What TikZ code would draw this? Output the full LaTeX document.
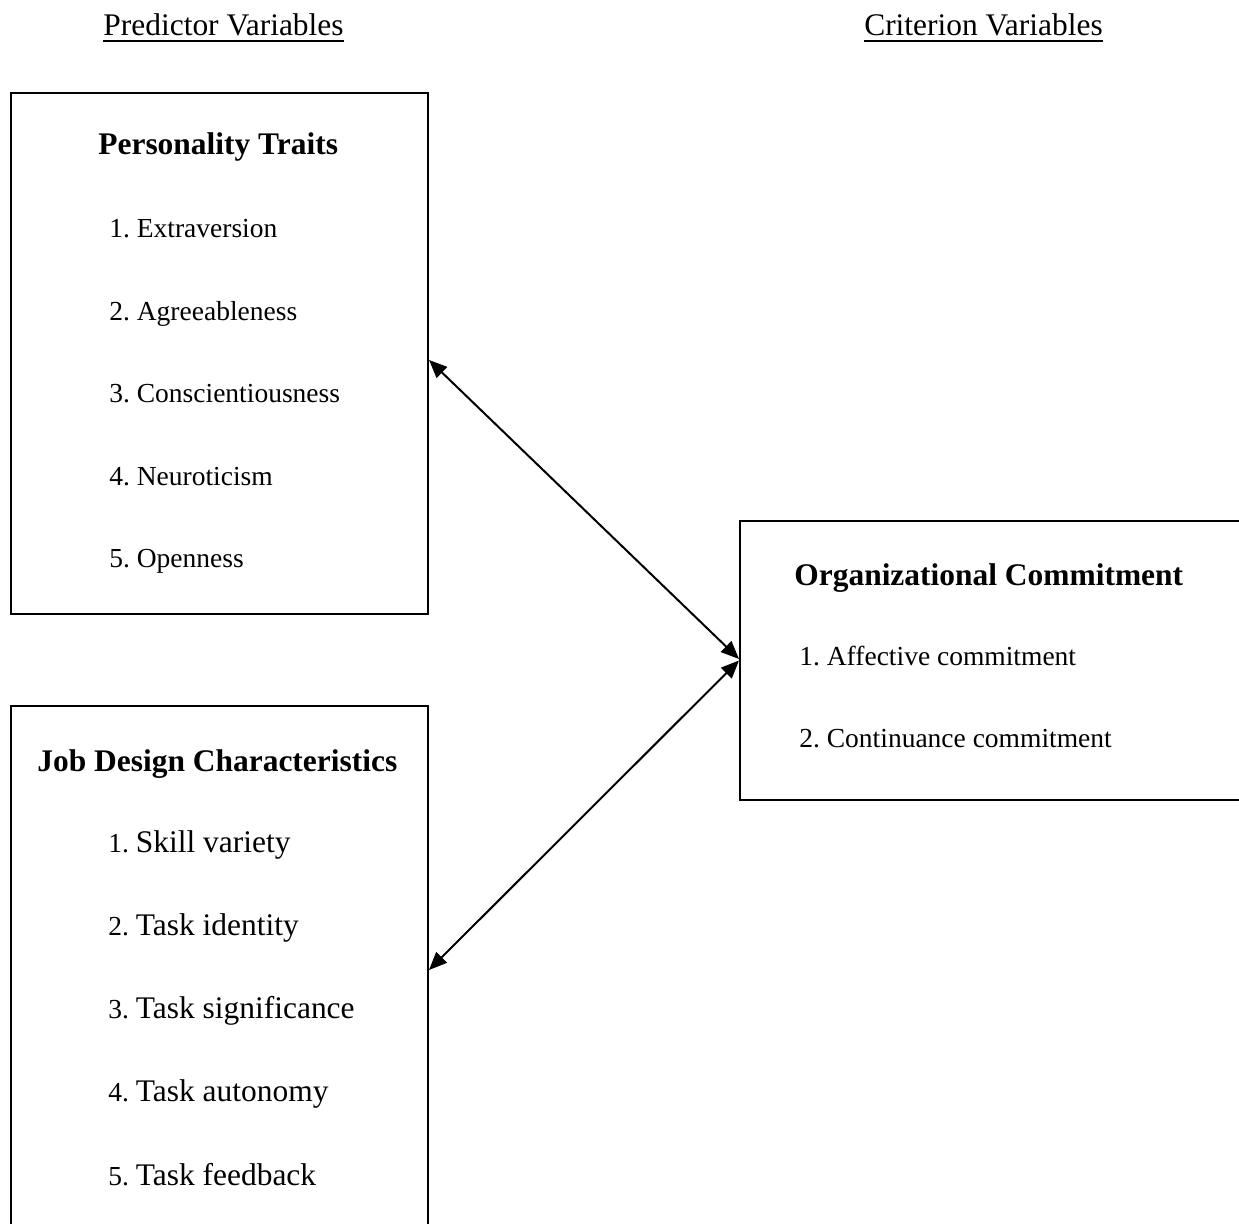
\documentclass[tikz,border=0pt]{standalone}
\usepackage{fontspec}
\setmainfont{Liberation Serif}
\usetikzlibrary{arrows.meta}
\frenchspacing
\newcommand{\hdsize}{\fontsize{17.9}{21}\selectfont}
\newcommand{\itsize}{\fontsize{15.65}{19}\selectfont}
\tikzset{
  varbox/.style={draw, line width=0.04cm, inner sep=0},
  hd/.style={anchor=base, inner sep=0, font=\hdsize},
  title/.style={anchor=base west, inner sep=0, font=\hdsize\bfseries},
  item/.style={anchor=base west, inner sep=0, font=\itsize},
  link/.style={line width=0.04cm, {Triangle[length=0.36cm,width=0.3cm]}-{Triangle[length=0.36cm,width=0.3cm]}}
}

\begin{document}
\begin{tikzpicture}
			%%%%% START %%%%%
			\path[use as bounding box, clip] (0, 0) rectangle (24.78, 24.46);
			
			\node[hd] (pv) at (4.47, 23.74) {Predictor Variables};
			\draw[line width=0.7pt] ([yshift=-0.1cm]pv.base west) -- ([yshift=-0.1cm]pv.base east);
			\node[hd] (cv) at (19.67, 23.74) {Criterion Variables};
			\draw[line width=0.7pt] ([yshift=-0.1cm]cv.base west) -- ([yshift=-0.1cm]cv.base east);
			
			\node[varbox, minimum width=8.34cm, minimum height=10.42cm] (pers) at (4.39, 17.39) {};
			\node[title] (perst) at (1.96, 21.36) {Personality Traits};
			\node[item] (pers1) at (2.18, 19.70) {1. Extraversion};
			\node[item] (pers2) at (2.18, 18.05) {2. Agreeableness};
			\node[item] (pers3) at (2.18, 16.40) {3. Conscientiousness};
			\node[item] (pers4) at (2.18, 14.75) {4. Neuroticism};
			\node[item] (pers5) at (2.18, 13.10) {5. Openness};
			
			\node[varbox, minimum width=8.34cm, minimum height=10.56cm] (job) at (4.39, 5.06) {};
			\node[title] (jobt) at (0.74, 9.02) {Job Design Characteristics};
			\node[item] (job1) at (2.16, 7.40) {1. {\hdsize Skill variety}};
			\node[item] (job2) at (2.16, 5.74) {2. {\hdsize Task identity}};
			\node[item] (job3) at (2.16, 4.08) {3. {\hdsize Task significance}};
			\node[item] (job4) at (2.16, 2.42) {4. {\hdsize Task autonomy}};
			\node[item] (job5) at (2.16, 0.76) {5. {\hdsize Task feedback}};
			
			\node[varbox, minimum width=10.24cm, minimum height=5.58cm] (org) at (19.92, 11.25) {};
			\node[title] (orgt) at (15.88, 12.74) {Organizational Commitment};
			\node[item] (org1) at (15.98, 11.14) {1. Affective commitment};
			\node[item] (org2) at (15.98, 9.50) {2. Continuance commitment};
			
			\coordinate (persr) at ([yshift=-0.13cm]pers.east);
			\draw[link] (persr) -- ([yshift=0.03cm]org.west);
			\draw[link] (job.east) -- (org.west);
			
			%%%%% END %%%%%
\end{tikzpicture}
\end{document}
